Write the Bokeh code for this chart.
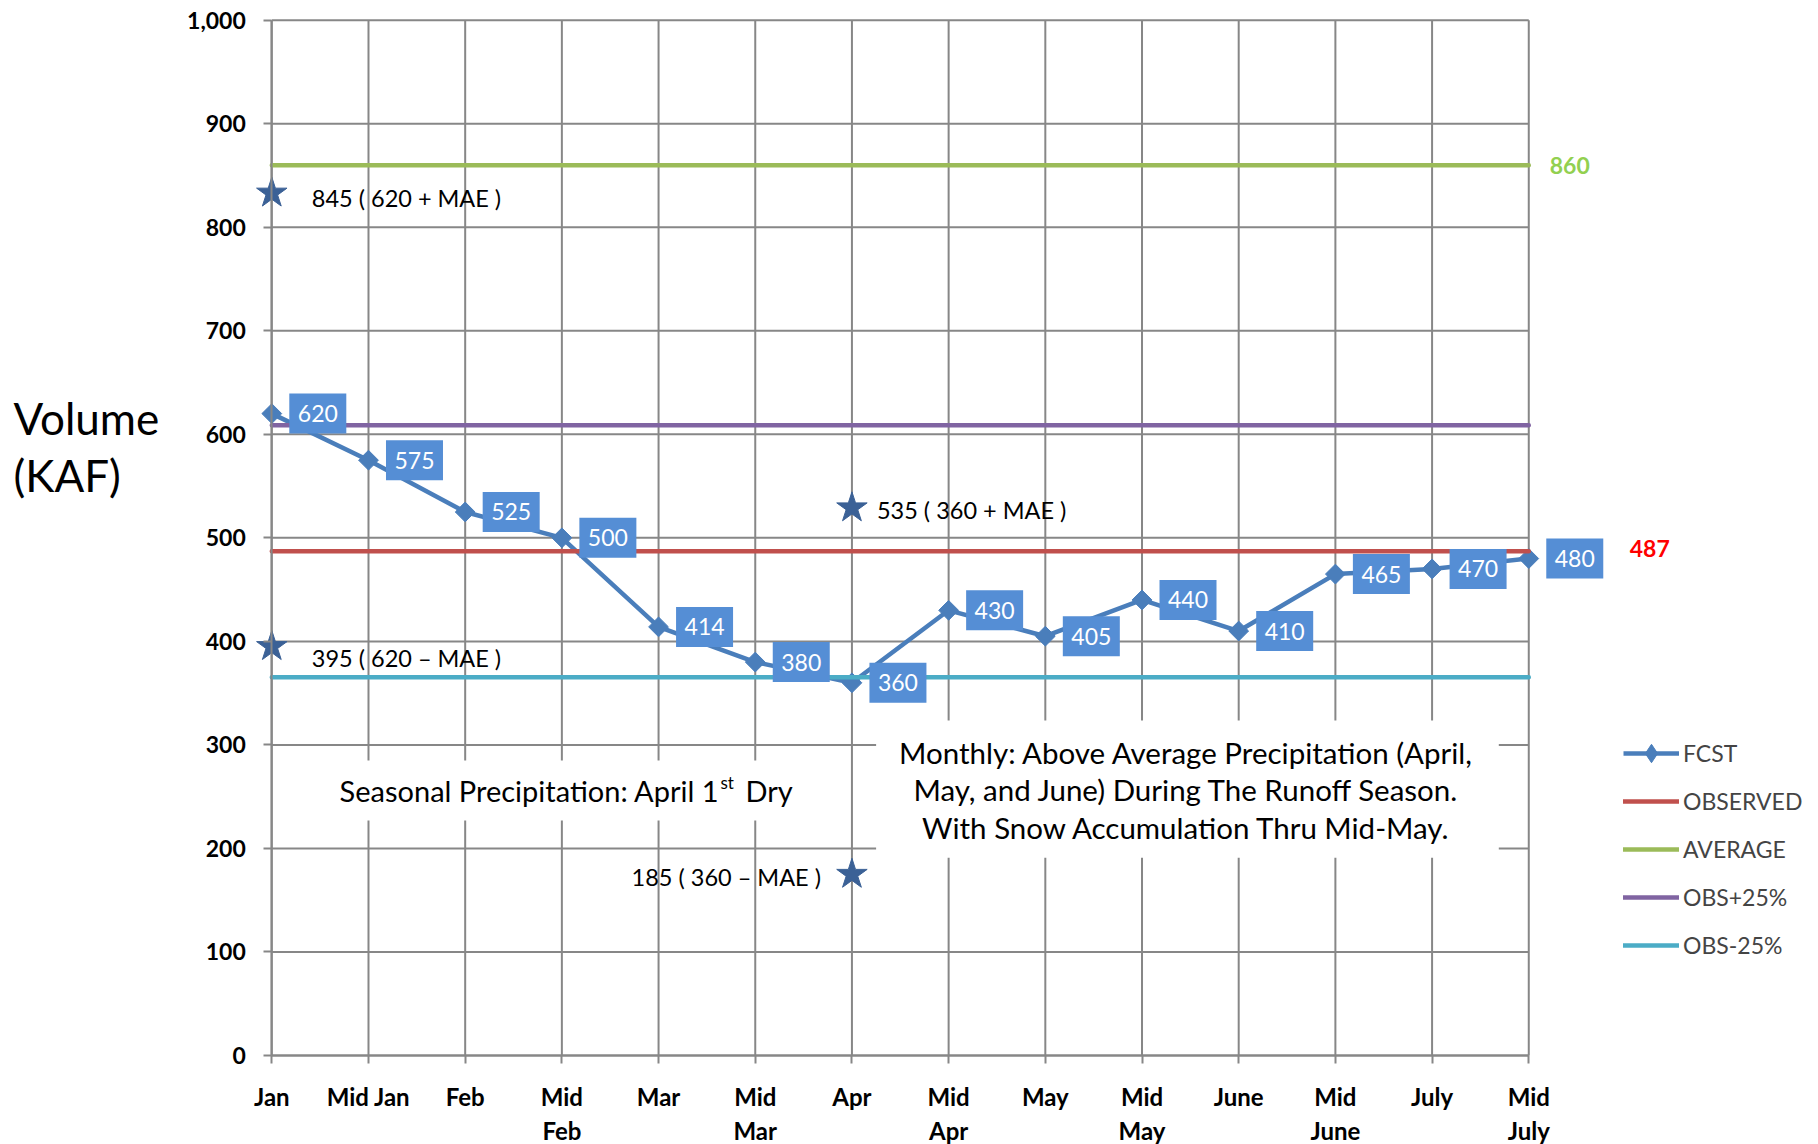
import math
from bokeh.plotting import figure
from bokeh.models import (Label, Legend, LegendItem,
                          FixedTicker, NumeralTickFormatter, BoxAnnotation, Range1d)
from bokeh.embed import file_html
from bokeh.resources import INLINE

# ---------------- data ----------------
categories = ["Jan", "Mid Jan", "Feb", "Mid\nFeb", "Mar", "Mid\nMar", "Apr",
              "Mid\nApr", "May", "Mid\nMay", "June", "Mid\nJune", "July", "Mid\nJuly"]
fcst = [620, 575, 525, 500, 414, 380, 360, 430, 405, 440, 410, 465, 470, 480]
observed = 487
average = 860
obs_plus_25 = 608.75
obs_minus_25 = 365.25
y_ticks = [0, 100, 200, 300, 400, 500, 600, 700, 800, 900, 1000]

star_cat = [0, 0, 6, 6]
star_vals = [833, 395, 529, 175]
star_texts = ["845 ( 620 + MAE )", "395 ( 620 \u2013 MAE )",
              "535 ( 360 + MAE )", "185 ( 360 \u2013 MAE )"]

seasonal_note = ["Seasonal Precipitation: April 1", "st", "Dry"]
monthly_note = ("Monthly: Above Average Precipitation (April,\n"
                "May, and June) During The Runoff Season.\n"
                "With Snow Accumulation Thru Mid-May.")

# ---------------- styles ----------------
FONT = "Lato"
GRID = "#878787"
C_FCST = "#4A7EBB"
C_BOX = "#558ED5"
C_OBS = "#C0504D"
C_AVG = "#9BBB59"
C_P25 = "#8064A2"
C_M25 = "#4BACC6"
C_STAR = "#3B6196"

xi = list(range(len(categories)))
n = len(xi)

W, H = 1810, 1144
LEFT, TOP, BOTTOM = 271.3, 19.7, 1055.0   # pixel positions of the plotting area
PX_X = 96.69                              # pixels per category step
PX_Y = (BOTTOM - TOP) / 1000.0            # pixels per KAF
x0 = -LEFT / PX_X
y1 = 1000 + TOP / PX_Y
p = figure(width=W, height=H, output_backend="svg", toolbar_location=None,
           x_range=Range1d(x0, x0 + W / PX_X), y_range=Range1d(y1 - H / PX_Y, y1),
           min_border_left=0, min_border_right=0, min_border_top=0,
           min_border_bottom=0)
p.background_fill_color = "white"
p.border_fill_color = "white"
p.outline_line_color = None
p.xgrid.visible = False
p.ygrid.visible = False

# axes drawn at the data origin
p.xaxis.fixed_location = y_ticks[0]
p.yaxis.fixed_location = xi[0]
p.xaxis.bounds = (xi[0], xi[-1])
p.yaxis.bounds = (y_ticks[0], y_ticks[-1])
p.xaxis.ticker = FixedTicker(ticks=xi)
p.xaxis.major_label_overrides = {i: c for i, c in enumerate(categories)}
p.yaxis.ticker = FixedTicker(ticks=y_ticks)
p.yaxis.formatter = NumeralTickFormatter(format="0,0")
for ax in (p.xaxis, p.yaxis):
    ax.axis_line_color = GRID
    ax.axis_line_width = 2
    ax.major_tick_line_color = GRID
    ax.major_tick_line_width = 2
    ax.major_tick_out = 8
    ax.major_tick_in = 0
    ax.minor_tick_line_color = None
    ax.major_label_text_font = FONT
    ax.major_label_text_font_style = "bold"
    ax.major_label_text_color = "black"
p.yaxis.major_label_text_font_size = "23px"
p.xaxis.major_label_text_font_size = "24px"
p.yaxis.major_label_standoff = 18
p.xaxis.major_label_standoff = 18
p.xaxis.major_label_text_line_height = 1.19

# gridlines spanning only the plotting area
p.segment(x0=xi, y0=[y_ticks[0]] * n, x1=xi, y1=[y_ticks[-1]] * n,
          line_color=GRID, line_width=2, level="underlay")
p.segment(x0=[xi[0]] * len(y_ticks), y0=y_ticks, x1=[xi[-1]] * len(y_ticks), y1=y_ticks,
          line_color=GRID, line_width=2, level="underlay")

# text boxes (white backgrounds hiding the gridlines)
p.add_layout(BoxAnnotation(left=0.5, right=5.47, bottom=227, top=285,
                           fill_color="white", fill_alpha=1, line_color=None,
                           level="glyph"))
p.add_layout(BoxAnnotation(left=6.25, right=12.69, bottom=191, top=323.5,
                           fill_color="white", fill_alpha=1, line_color=None,
                           level="glyph"))

# series
fcst_line = p.line(xi, fcst, line_color=C_FCST, line_width=4.5)
# legend key marker (a diamond), sits underneath the plotted markers
fcst_key = p.scatter(xi, fcst, marker="diamond", size=18,
                     fill_color=C_FCST, line_color=C_FCST)
fcst_pts = p.scatter(xi, fcst, marker="square", angle=math.pi / 4, size=14,
                     fill_color=C_FCST, line_color=C_FCST)
obs_line = p.line(xi, [observed] * n, line_color=C_OBS, line_width=4.5, line_cap="round")
avg_line = p.line(xi, [average] * n, line_color=C_AVG, line_width=4.5, line_cap="round")
p25_line = p.line(xi, [obs_plus_25] * n, line_color=C_P25, line_width=4.5, line_cap="round")
m25_line = p.line(xi, [obs_minus_25] * n, line_color=C_M25, line_width=4.5, line_cap="round")

# value boxes (to the right of each point)
box_dx = 46 / PX_X
box_x = [x + box_dx for x in xi]
p.rect(box_x, fcst, width=57, height=40, width_units="screen", height_units="screen",
       fill_color=C_BOX, line_color=None)
p.text(box_x, fcst, text=[str(v) for v in fcst], text_align="center",
       text_baseline="middle", text_color="white", text_font={"value": FONT},
       text_font_size="23px")

# stars and their notes
p.scatter(star_cat, star_vals, marker="star", size=32, fill_color=C_STAR,
          line_color=C_STAR)
star_xoff = [40, 40, 25, -31]
star_yoff = [-5, -11, -2, -3]
star_align = ["left", "left", "left", "right"]
for c, v, t, xo, yo, al in zip(star_cat, star_vals, star_texts, star_xoff, star_yoff, star_align):
    p.add_layout(Label(x=c, y=v, text=t, x_offset=xo, y_offset=yo, text_align=al,
                       text_baseline="middle", text_font=FONT, text_font_size="23.5px",
                       text_color="black"))

# right side value labels
p.add_layout(Label(x=xi[-1], y=average, text=str(average), x_offset=21,
                   text_baseline="middle", text_font=FONT, text_font_style="bold",
                   text_font_size="23px", text_color="#92D050"))
p.add_layout(Label(x=xi[-1], y=observed, text=str(observed), x_offset=101, y_offset=3,
                   text_baseline="middle", text_font=FONT, text_font_style="bold",
                   text_font_size="23px", text_color="#FF0000"))

# seasonal note with superscript
sx = (719 - LEFT) / PX_X
sy = (BOTTOM - 790) / PX_Y
p.add_layout(Label(x=sx, y=sy, text=seasonal_note[0], text_align="right",
                   text_baseline="middle", text_font=FONT, text_font_size="29px",
                   text_color="black"))
p.add_layout(Label(x=sx, y=sy, text=seasonal_note[1], x_offset=1, y_offset=8,
                   text_align="left", text_baseline="middle", text_font=FONT,
                   text_font_size="17px", text_color="black"))
p.add_layout(Label(x=sx, y=sy, text=seasonal_note[2], x_offset=26,
                   text_align="left", text_baseline="middle", text_font=FONT,
                   text_font_size="29px", text_color="black"))

# monthly note
p.add_layout(Label(x=(1186 - LEFT) / PX_X, y=(BOTTOM - 789.5) / PX_Y, text=monthly_note,
                   text_align="center", text_baseline="middle", text_font=FONT,
                   text_font_size="29.5px", text_line_height=1.08, text_color="black"))

# y axis title
p.add_layout(Label(x=(13 - LEFT) / PX_X, y=(BOTTOM - 446) / PX_Y, text="Volume\n(KAF)",
                   text_align="left", text_baseline="middle", text_font=FONT,
                   text_font_size="44px", text_line_height=1.1, text_color="black"))

# legend
legend = Legend(items=[
    LegendItem(label="FCST", renderers=[fcst_line, fcst_key]),
    LegendItem(label="OBSERVED", renderers=[obs_line]),
    LegendItem(label="AVERAGE", renderers=[avg_line]),
    LegendItem(label="OBS+25%", renderers=[p25_line]),
    LegendItem(label="OBS-25%", renderers=[m25_line]),
], location=(1623, H - 968), padding=0, margin=0, spacing=2, glyph_width=56,
    glyph_height=46, label_height=46, label_standoff=4,
    label_text_font=FONT, label_text_font_size="23px",
    background_fill_alpha=0, border_line_color=None)
p.add_layout(legend)

open("out.html", "w").write(file_html(p, INLINE))
